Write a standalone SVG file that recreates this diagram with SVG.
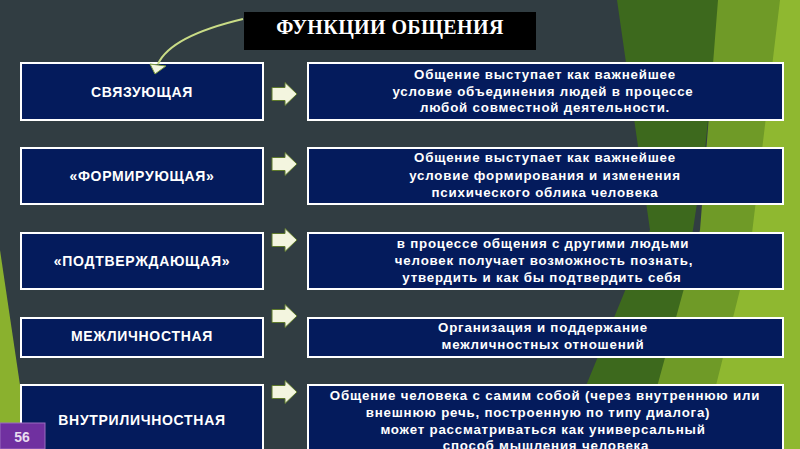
<svg xmlns="http://www.w3.org/2000/svg" width="800" height="449" viewBox="0 0 800 449">
<style>
.box{fill:#041b5c;stroke:#ffffff;stroke-width:2}
.lt{font-family:"Liberation Sans",Arial,sans-serif;font-weight:bold;font-size:14px;fill:#ffffff;text-anchor:middle;letter-spacing:0.7px}
.rt{font-family:"Liberation Sans",Arial,sans-serif;font-weight:bold;font-size:13.3px;fill:#ffffff;text-anchor:middle;letter-spacing:0.8px}
.arr{fill:#f3f5df;stroke:#5f7a2c;stroke-width:1}
</style>
<defs>
<path id="ba" d="M0,-6.5 H13 V-11.5 L25,0 L13,11.5 V6.5 H0 Z"/>
</defs>
<rect width="800" height="449" fill="#313d42"/>
<g id="background">
<polygon points="617,0 720,0 705,150 660,449 560,449 650,230" fill="#3d691d"/>
<polygon points="718,0 782,0 770,120 720,449 640,449 700,230" fill="#6f9a27"/>
<polygon points="780,0 800,0 800,449 700,449 750,250" fill="#8fb830"/>
<polygon points="0,250 20,385 20,449 0,449" fill="#8ab12e"/>
</g>
<g id="title">
<rect x="244" y="12" width="292" height="38" fill="#000000"/>
<text x="390" y="34" font-family="Liberation Serif,'Times New Roman',serif" font-weight="bold" font-size="20" fill="#ffffff" text-anchor="middle" letter-spacing="0.4">ФУНКЦИИ ОБЩЕНИЯ</text>
</g>
<g id="n1">
<rect class="box" x="21" y="63" width="242" height="57"/>
<text class="lt" x="142" y="97">СВЯЗУЮЩАЯ</text>
</g>
<g id="d1">
<rect class="box" x="308" y="63" width="475" height="57"/>
<text class="rt" x="545" y="79">Общение выступает как важнейшее</text>
<text class="rt" x="543" y="96">условие объединения людей в процессе</text>
<text class="rt" x="545" y="112">любой совместной деятельности.</text>
</g>
<g id="n2">
<rect class="box" x="21" y="148" width="242" height="56"/>
<text class="lt" x="142" y="181">«ФОРМИРУЮЩАЯ»</text>
</g>
<g id="d2">
<rect class="box" x="308" y="148" width="475" height="56"/>
<text class="rt" x="545" y="162">Общение выступает как важнейшее</text>
<text class="rt" x="545" y="180">условие формирования и изменения</text>
<text class="rt" x="545" y="197">психического облика человека</text>
</g>
<g id="n3">
<rect class="box" x="21" y="233" width="242" height="56"/>
<text class="lt" x="142" y="266">«ПОДТВЕРЖДАЮЩАЯ»</text>
</g>
<g id="d3">
<rect class="box" x="308" y="233" width="475" height="56"/>
<text class="rt" x="543" y="248">в процессе общения с другими людьми</text>
<text class="rt" x="544" y="265">человек получает возможность познать,</text>
<text class="rt" x="542" y="282">утвердить и как бы подтвердить себя</text>
</g>
<g id="n4">
<rect class="box" x="21" y="318" width="242" height="39"/>
<text class="lt" x="142" y="341">МЕЖЛИЧНОСТНАЯ</text>
</g>
<g id="d4">
<rect class="box" x="308" y="318" width="475" height="39"/>
<text class="rt" x="543" y="332">Организация и поддержание</text>
<text class="rt" x="543" y="349">межличностных отношений</text>
</g>
<g id="n5">
<rect class="box" x="21" y="385" width="242" height="80"/>
<text class="lt" x="142" y="425">ВНУТРИЛИЧНОСТНАЯ</text>
</g>
<g id="d5">
<rect class="box" x="308" y="385" width="475" height="80"/>
<text class="rt" x="545" y="400">Общение человека с самим собой (через внутреннюю или</text>
<text class="rt" x="538" y="417">внешнюю речь, построенную по типу диалога)</text>
<text class="rt" x="543" y="434">может рассматриваться как универсальный</text>
<text class="rt" x="546" y="450">способ мышления человека</text>
</g>
<g id="connectors">
<path d="M243,19 C205,28 168,42 158,64" fill="none" stroke="#c9dc86" stroke-width="2"/>
<polygon points="150,64 166,66 155,74" fill="#f3f5df" stroke="#7a9a3a" stroke-width="1"/>
<use href="#ba" class="arr" x="272" y="94"/>
<use href="#ba" class="arr" x="272" y="164"/>
<use href="#ba" class="arr" x="272" y="240"/>
<use href="#ba" class="arr" x="272" y="316"/>
<use href="#ba" class="arr" x="272" y="392"/>
</g>
<g id="page">
<rect x="0" y="423" width="45" height="26" fill="#7030a0" stroke="#9a6cc0" stroke-width="1"/>
<text x="22" y="442" font-family="Liberation Sans,Arial,sans-serif" font-size="14" font-weight="bold" fill="#e8dcef" text-anchor="middle">56</text>
</g>
</svg>
